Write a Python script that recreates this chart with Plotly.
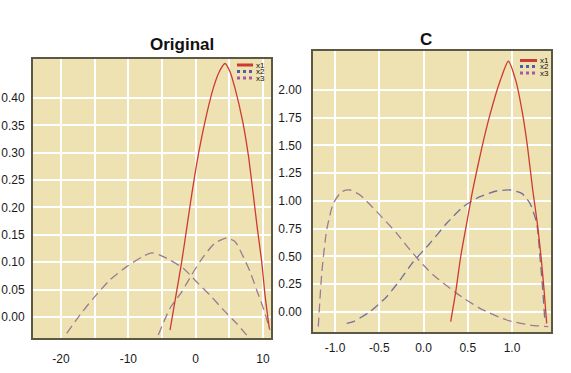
import plotly.graph_objects as go

# ---------------- data: "Original" panel ----------------
orig_x1_x = [-3.81, -2.92, -2.07, -1.33, -0.59, 0.39, 1.39, 2.62, 3.51, 4.36,
             5.10, 5.84, 6.99, 7.82, 8.56, 9.16, 9.81, 10.30, 10.94]
orig_x1_y = [-0.024, 0.040, 0.101, 0.162, 0.223, 0.296, 0.357, 0.418, 0.448, 0.463,
             0.448, 0.418, 0.357, 0.296, 0.223, 0.162, 0.101, 0.040, -0.021]

orig_x2_x = [-5.55, -3.81, -2.07, -0.59, 1.13, 2.87, 4.61, 5.84, 6.84, 8.07,
             9.07, 10.05, 11.04]
orig_x2_y = [-0.033, 0.016, 0.046, 0.077, 0.110, 0.135, 0.144, 0.138, 0.116, 0.083,
             0.049, 0.016, -0.024]

orig_x3_x = [-19.15, -17.18, -15.20, -12.72, -10.24, -7.78, -6.53, -5.30, -3.81,
             -1.84, 0.15, 2.13, 4.11, 6.10, 7.58]
orig_x3_y = [-0.030, 0.004, 0.034, 0.068, 0.092, 0.111, 0.117, 0.113, 0.104,
             0.089, 0.064, 0.040, 0.013, -0.012, -0.033]

# ---------------- data: "C" panel ----------------
c_x1_x = [0.307, 0.367, 0.420, 0.488, 0.556, 0.658, 0.751, 0.864, 0.958,
          1.045, 1.121, 1.177, 1.234, 1.286, 1.328, 1.362, 1.392]
c_x1_y = [-0.087, 0.198, 0.498, 0.799, 1.099, 1.477, 1.778, 2.078, 2.259,
          2.078, 1.778, 1.477, 1.099, 0.799, 0.498, 0.198, -0.102]

c_x2_x = [-0.868, -0.793, -0.605, -0.416, -0.266, -0.115, 0.073, 0.262, 0.450,
          0.638, 0.827, 0.977, 1.110, 1.203, 1.279, 1.316, 1.347, 1.373]
c_x2_y = [-0.102, -0.087, 0.003, 0.138, 0.288, 0.453, 0.619, 0.799, 0.949,
          1.039, 1.090, 1.099, 1.069, 0.979, 0.799, 0.498, 0.198, -0.102]

c_x3_x = [-1.189, -1.150, -1.094, -1.019, -0.924, -0.831, -0.718, -0.529, -0.303,
          -0.153, -0.002, 0.111, 0.375, 0.638, 0.940, 1.203, 1.410]
c_x3_y = [-0.132, 0.349, 0.739, 0.979, 1.084, 1.099, 1.054, 0.904, 0.709,
          0.559, 0.423, 0.333, 0.168, 0.033, -0.072, -0.117, -0.132]

series_names = ["x1", "x2", "x3"]
panel_titles = ["Original", "C"]

orig_y_ticks = [0.00, 0.05, 0.10, 0.15, 0.20, 0.25, 0.30, 0.35, 0.40]
orig_x_ticks = [-20, -10, 0, 10]
c_y_ticks = [0.00, 0.25, 0.50, 0.75, 1.00, 1.25, 1.50, 1.75, 2.00]
c_x_ticks = [-1.0, -0.5, 0.0, 0.5, 1.0]

# ---------------- styles ----------------
RED = "#cc3a33"
BLUE = "#70709a"
PURP = "#9a7a92"
BG = "#efe2b2"
FRAME = "#5b5846"
FONT = "Liberation Sans, Arial, sans-serif"
dash = "9px,5px"

fig = go.Figure()

def add(x, y, color, d, xa, ya, name):
    fig.add_trace(go.Scatter(x=x, y=y, mode="lines", name=name, showlegend=False,
                             line=dict(color=color, width=1.3, dash=d, shape="spline", smoothing=0.6),
                             xaxis=xa, yaxis=ya, hoverinfo="skip"))

add(orig_x3_x, orig_x3_y, PURP, dash, "x", "y", "x3")
add(orig_x2_x, orig_x2_y, PURP, dash, "x", "y", "x2")
add(orig_x1_x, orig_x1_y, RED, "solid", "x", "y", "x1")
add(c_x3_x, c_x3_y, PURP, dash, "x2", "y2", "x3")
add(c_x2_x, c_x2_y, BLUE, dash, "x2", "y2", "x2")
add(c_x1_x, c_x1_y, RED, "solid", "x2", "y2", "x1")

axis_common = dict(showline=True, mirror=True, linecolor=FRAME, linewidth=2,
                   showgrid=True, gridcolor="white", gridwidth=1.5, zeroline=False,
                   automargin=False,
                   ticks="", tickfont=dict(family=FONT, size=12, color="#1a1a1a"))

fig.update_layout(
    width=571, height=373,
    margin=dict(l=0, r=0, t=0, b=0, autoexpand=False),
    paper_bgcolor="white",
    plot_bgcolor=BG,
    showlegend=False,
    xaxis=dict(domain=[0.0578, 0.4746], range=[-24.16, 11.19], tickvals=orig_x_ticks,
               ticktext=[str(v) for v in orig_x_ticks], ticklabelstandoff=9,
               minor=dict(dtick=5, showgrid=True, gridcolor="white", gridwidth=1.5, ticks=""),
               anchor="y", **axis_common),
    yaxis=dict(domain=[0.0938, 0.8418], range=[-0.0384, 0.4712], tickvals=orig_y_ticks,
               ticktext=[f"{v:.2f}" for v in orig_y_ticks], ticklabelstandoff=4,
               anchor="x", **axis_common),
    xaxis2=dict(domain=[0.5482, 0.9650], range=[-1.2486, 1.4407], tickvals=c_x_ticks,
                ticktext=[f"{v:.1f}" for v in c_x_ticks], ticklabelstandoff=4,
                anchor="y2", **axis_common),
    yaxis2=dict(domain=[0.1099, 0.8633], range=[-0.1802, 2.3514], tickvals=c_y_ticks,
                ticktext=[f"{v:.2f}" for v in c_y_ticks], ticklabelstandoff=7,
                anchor="x2", **axis_common),
)

# titles
fig.add_annotation(text="<b>%s</b>" % panel_titles[0], x=148 / 571, y=1 - 45 / 373,
                   xref="paper", yref="paper", showarrow=False, yanchor="middle",
                   font=dict(family=FONT, size=17, color="#111"))
fig.add_annotation(text="<b>%s</b>" % panel_titles[1], x=434 / 571, y=1 - 40 / 373,
                   xref="paper", yref="paper", showarrow=False, yanchor="middle",
                   font=dict(family=FONT, size=17, color="#111"))

# manual compact legends
swatch = [(RED, "solid"), ("#4f5ea8", "dot"), ("#a558a5", "dot")]

def legend(x0, x1, rows_y):
    for (col, d), yy, nm in zip(swatch, rows_y, series_names):
        fig.add_shape(type="line", xref="paper", yref="paper",
                      x0=x0 / 571, x1=x1 / 571, y0=1 - yy / 373, y1=1 - yy / 373,
                      line=dict(color=col, width=3, dash=d))
        fig.add_annotation(text=nm, x=(x1 + 1) / 571, y=1 - yy / 373, xref="paper", yref="paper",
                           xanchor="left", yanchor="middle", showarrow=False,
                           font=dict(family=FONT, size=8, color="#111"))

legend(237, 253, [65, 71.5, 78])
legend(520, 537, [60.5, 66.5, 73])

fig.write_html("out.html", config={"displayModeBar": False},
               post_script="document.body.style.margin='0';document.body.style.overflow='hidden';")
